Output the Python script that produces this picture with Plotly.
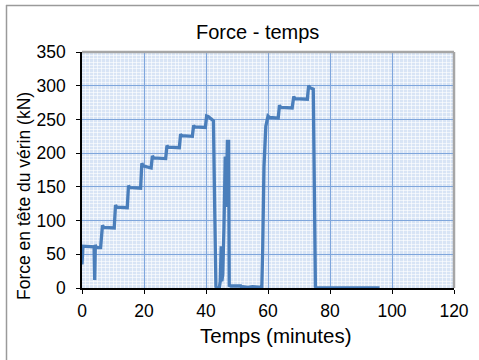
import plotly.graph_objects as go

# Data
temps_min = [0, 0.3, 3.9, 4.1, 4.3, 4.6, 6.0, 6.6, 7.0, 10.4, 10.8, 11.2, 14.6, 15.0, 15.4,
             18.9, 19.3, 19.7, 22.3, 22.7, 23.1, 27.0, 27.4, 27.8, 31.4, 31.8, 32.2,
             35.6, 36.0, 36.4, 39.8, 40.2, 40.8, 41.8, 42.4, 42.8, 43.2, 43.6, 44.3,
             44.6, 44.9, 45.1, 45.4, 45.8, 46.2, 46.5, 46.7, 46.9, 47.1, 47.3, 47.5,
             48.0, 51.2, 51.6, 52.0, 53.5, 55.0, 56.5, 58.0, 58.3, 58.7, 59.3, 60.0,
             60.5, 63.3, 63.7, 64.1, 67.8, 68.3, 68.7, 72.7, 73.1, 73.5, 74.6, 75.0,
             75.3, 75.6, 96.0]
force_kn = [35, 62, 61, 12, 64, 60, 60, 93, 90, 89, 123, 120, 119, 152, 149,
            148, 185, 181, 178, 196, 193, 192, 211, 209, 208, 228, 226,
            225, 241, 239, 238, 255, 254, 251, 248, 120, 2, 0, 0,
            10, 62, 10, 20, 90, 195, 120, 160, 220, 120, 220, 4,
            3, 3, 0, 2, 1, 2, 1, 1, 60, 180, 240, 255,
            253, 252, 271, 268, 267, 284, 281, 280, 300, 297, 295, 150,
            2, 0, 0]

x_ticks = [0, 20, 40, 60, 80, 100, 120]
y_ticks = [0, 50, 100, 150, 200, 250, 300, 350]

W, H = 479, 360
L, R, T, B = 82, 454, 52, 288
pw, ph = R - L, B - T

def px_x(p):
    return (p - L) / pw

def px_y(p):
    return (B - p) / ph

FONT = "Liberation Sans, Arial, sans-serif"

fig = go.Figure()
fig.add_trace(go.Scatter(
    x=temps_min, y=force_kn, mode="lines",
    line=dict(color="#4a7ebb", width=3.3), hoverinfo="skip", showlegend=False,
))

fig.update_layout(
    width=W, height=H,
    margin=dict(l=L, r=W - R, t=T, b=H - B, pad=0, autoexpand=False),
    paper_bgcolor="#ffffff",
    plot_bgcolor="#d8e4f5",
    font=dict(family=FONT, size=17.5, color="#000000"),
    showlegend=False,
)

fig.update_xaxes(
    range=[0, 120], tickvals=x_ticks, ticktext=[str(v) for v in x_ticks],
    showgrid=True, gridcolor="#7fa6dc", gridwidth=1,
    minor=dict(dtick=1.25, showgrid=True, gridcolor="rgba(255,255,255,0.6)", gridwidth=1),
    showline=True, linecolor="#000000", linewidth=1.5,
    ticks="outside", ticklen=4, tickcolor="#000000", ticklabelstandoff=2,
    zeroline=False, fixedrange=True, automargin=False,
    tickfont=dict(family=FONT, size=17.5, color="#000000"),
)
fig.update_yaxes(
    range=[0, 350], tickvals=y_ticks, ticktext=[str(v) for v in y_ticks],
    showgrid=True, gridcolor="#7fa6dc", gridwidth=1,
    minor=dict(dtick=5, showgrid=True, gridcolor="rgba(255,255,255,0.6)", gridwidth=1),
    showline=True, linecolor="#000000", linewidth=1.5,
    ticks="outside", ticklen=4, tickcolor="#000000", ticklabelstandoff=7,
    zeroline=False, fixedrange=True, automargin=False,
    tickfont=dict(family=FONT, size=17.5, color="#000000"),
)

# titles as paper annotations for precise placement
fig.add_annotation(text="Force - temps", xref="paper", yref="paper",
                   x=px_x(257), y=px_y(32), xanchor="center", yanchor="middle",
                   showarrow=False, font=dict(family=FONT, size=20, color="#000000"))
fig.add_annotation(text="Temps (minutes)", xref="paper", yref="paper",
                   x=px_x(276), y=px_y(335), xanchor="center", yanchor="middle",
                   showarrow=False, font=dict(family=FONT, size=20.5, color="#000000"))
fig.add_annotation(text="Force en tête du vérin (kN)", xref="paper", yref="paper",
                   x=px_x(24), y=px_y(196), xanchor="center", yanchor="middle",
                   textangle=-90, showarrow=False,
                   font=dict(family=FONT, size=17.5, color="#000000"))

# plot area top/right border (gray)
fig.add_shape(type="line", xref="paper", yref="paper", x0=0, x1=1, y0=1, y1=1,
              line=dict(color="#a6a6a6", width=2.5))
fig.add_shape(type="line", xref="paper", yref="paper", x0=1, x1=1, y0=0, y1=1,
              line=dict(color="#a6a6a6", width=2.5))
# outer chart frame (left and top edges visible)
fig.add_shape(type="line", xref="paper", yref="paper", x0=px_x(6), x1=px_x(481), y0=px_y(5.5), y1=px_y(5.5),
              line=dict(color="#9a9a9a", width=1.5))
fig.add_shape(type="line", xref="paper", yref="paper", x0=px_x(6.5), x1=px_x(6.5), y0=px_y(5), y1=px_y(362),
              line=dict(color="#9a9a9a", width=1.5))

# remove the default page margin so the figure sits at the window origin
fig.write_html("out.html", config={"displayModeBar": False},
               post_script="document.body.style.margin='0';document.body.style.overflow='hidden';")
